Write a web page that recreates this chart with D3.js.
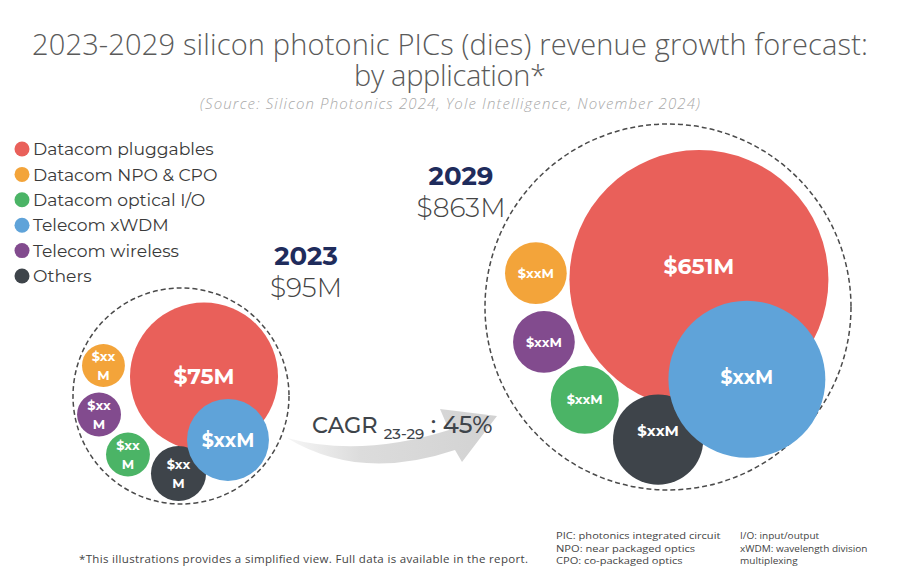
<!DOCTYPE html>
<html>
<head>
<meta charset="utf-8">
<script src="https://cdn.jsdelivr.net/npm/d3@7"></script>
<style>
  body { margin: 0; background: #fff; }
  svg { display: block; }
</style>
</head>
<body>
<div id="chart"></div>
<script>
"use strict";

// data
const categories = [
	"Datacom pluggables",
	"Datacom NPO & CPO",
	"Datacom optical I/O",
	"Telecom xWDM",
	"Telecom wireless",
	"Others",
];
const colors = ["#e9605a", "#f3a43a", "#4bb466", "#5fa3d9", "#824b8e", "#3e444a"];

const years = ["2023", "2029"];
const totals = ["$95M", "$863M"];
// bubble sizes (only pluggables is given, others)
const size2023 = [75, 6.3, 6.6, 23, 6.6, 10.4];
const size2029 = [651, 37, 45, 239, 37, 79];
const labels2023 = [["$75M"], ["$xx", "M"], ["$xx", "M"], ["$xxM"], ["$xx", "M"], ["$xx", "M"]];
const labels2029 = [["$651M"], ["$xxM"], ["$xxM"], ["$xxM"], ["$xxM"], ["$xxM"]];
const cagrPeriod = "23-29";
const cagrValue = "45%";

// layout: group circle, largest radius, bubble offsets (fraction of group radius)
const layout = [
	{
		cx: 181, cy: 396, R: 108, maxR: 74,
		offsets: [[0.213, -0.18], [-0.718, -0.282], [-0.491, 0.542], [0.435, 0.407], [-0.759, 0.171], [-0.023, 0.718]],
		fonts: [22, 13, 13, 19, 13, 13],
		labelDy: [0, 0, 0, 0, 0, 0],
		yearPos: [306, 265], totalPos: [306, 297],
	},
	{
		cx: 668, cy: 307, R: 183, maxR: 129.5,
		offsets: [[0.169, -0.15], [-0.722, -0.185], [-0.455, 0.507], [0.431, 0.395], [-0.678, 0.191], [-0.054, 0.725]],
		fonts: [22, 13, 13, 19, 13, 15],
		labelDy: [-13, 0, 0, -2, 0, -9],
		yearPos: [461, 185], totalPos: [461, 217],
	},
];

const W = 900, H = 569;
const sans = "Montserrat, 'DejaVu Sans', sans-serif";
const light = "'Open Sans', sans-serif";

const svg = d3.select("#chart")
	.append("svg")
	.attr("id", "svg")
	.attr("width", W)
	.attr("height", H);

// title
const title = svg.append("g").attr("id", "title").attr("text-anchor", "middle")
	.attr("font-family", light).attr("font-weight", 300);
title.append("text")
	.attr("x", W / 2).attr("y", 55)
	.attr("font-size", 29).attr("fill", "#5a5a5a")
	.attr("textLength", 836).attr("lengthAdjust", "spacing")
	.text("2023-2029 silicon photonic PICs (dies) revenue growth forecast:");
title.append("text")
	.attr("x", W / 2).attr("y", 86)
	.attr("font-size", 29).attr("fill", "#5a5a5a")
	.attr("textLength", 192).attr("lengthAdjust", "spacing")
	.text("by application*");
title.append("text")
	.attr("x", W / 2).attr("y", 109)
	.attr("font-style", "italic")
	.attr("font-size", 15).attr("fill", "#a8a8a8")
	.attr("textLength", 500).attr("lengthAdjust", "spacing")
	.text("(Source: Silicon Photonics 2024, Yole Intelligence, November 2024)");

// legend
const legend = svg.append("g").attr("id", "legend");
const ly = d3.scalePoint().domain(categories).range([149, 276]);
const item = legend.selectAll(".item")
	.data(categories)
	.enter()
	.append("g")
	.attr("class", "item")
	.attr("transform", (d) => `translate(22,${ly(d)})`);
item.append("circle")
	.attr("r", 7.5)
	.attr("fill", (d, i) => colors[i]);
item.append("text")
	.attr("x", 11).attr("dy", "0.36em")
	.attr("font-family", sans).attr("font-size", 17.2)
	.attr("fill", "#3a3a3a")
	.text((d) => d);

// CAGR arrow
const defs = svg.append("defs");
const grad = defs.append("linearGradient").attr("id", "arrowGrad");
grad.append("stop").attr("offset", "0%").attr("stop-color", "#f6f6f6");
grad.append("stop").attr("offset", "35%").attr("stop-color", "#dcdcdc");
grad.append("stop").attr("offset", "100%").attr("stop-color", "#d2d2d2");

svg.append("path")
	.attr("d", "M287,438 Q360,458 449,430 L440,409 L497,416 L462,462 L455,450 Q360,482 287,438 Z")
	.attr("fill", "url(#arrowGrad)");

const cagr = svg.append("text")
	.attr("x", 312).attr("y", 433)
	.attr("font-family", sans).attr("font-weight", 500)
	.attr("fill", "#3e444a");
cagr.append("tspan").attr("font-size", 22.5).text("CAGR ");
cagr.append("tspan").attr("font-size", 15).attr("dy", 6).text(cagrPeriod);
cagr.append("tspan").attr("font-size", 24).attr("dy", -6).text(" : " + cagrValue);

// bubble groups
const sizes = [size2023, size2029];
const labels = [labels2023, labels2029];

years.forEach((year, gi) => {
	const L = layout[gi];
	const g = svg.append("g").attr("id", "bubbles" + year);

	const r = d3.scaleSqrt()
		.domain([0, d3.max(sizes[gi])])
		.range([0, L.maxR]);

	g.append("circle")
		.attr("cx", L.cx).attr("cy", L.cy).attr("r", L.R)
		.attr("fill", "none")
		.attr("stroke", "#4a4a4a")
		.attr("stroke-width", 1.5)
		.attr("stroke-dasharray", "5,3");

	const data = categories.map((c, i) => ({
		cat: c,
		value: sizes[gi][i],
		label: labels[gi][i],
		color: colors[i],
		font: L.fonts[i],
		ldy: L.labelDy[i],
		x: L.cx + L.offsets[i][0] * L.R,
		y: L.cy + L.offsets[i][1] * L.R,
	}));

	// pluggables underneath, blue and others on top
	const order = [0, 1, 4, 2, 5, 3];
	const bubble = g.selectAll(".bubble")
		.data(order.map((i) => data[i]))
		.enter()
		.append("g")
		.attr("class", "bubble")
		.attr("transform", (d) => `translate(${d.x},${d.y})`);

	bubble.append("circle")
		.attr("r", (d) => r(d.value))
		.attr("fill", (d) => d.color);

	bubble.each(function (d) {
		const t = d3.select(this).append("text")
			.attr("text-anchor", "middle")
			.attr("font-family", sans).attr("font-weight", "bold")
			.attr("font-size", d.font)
			.attr("fill", "#fff");
		const n = d.label.length;
		d.label.forEach((line, k) => {
			t.append("tspan")
				.attr("x", 0)
				.attr("y", d.ldy + (k - (n - 1) / 2) * d.font * 1.45)
				.attr("dy", "0.36em")
				.text(line);
		});
	});

	// year + total
	svg.append("text")
		.attr("x", L.yearPos[0]).attr("y", L.yearPos[1])
		.attr("text-anchor", "middle")
		.attr("font-family", sans).attr("font-weight", "bold")
		.attr("font-size", 26).attr("fill", "#1f2c5c")
		.text(year);
	svg.append("text")
		.attr("x", L.totalPos[0]).attr("y", L.totalPos[1])
		.attr("text-anchor", "middle")
		.attr("font-family", sans).attr("font-weight", 300)
		.attr("font-size", 26.5).attr("fill", "#444")
		.text(totals[gi]);
});

// footnotes
const foot = svg.append("g").attr("id", "footnotes")
	.attr("font-family", light).attr("fill", "#444");
foot.append("text")
	.attr("x", 79).attr("y", 563)
	.attr("font-size", 11.5)
	.attr("textLength", 449).attr("lengthAdjust", "spacing")
	.text("*This illustrations provides a simplified view. Full data is available in the report.");

// abbreviations: small, widened to the reference's letter width
const abbrLeft = ["PIC: photonics integrated circuit", "NPO: near packaged optics", "CPO: co-packaged optics"];
const abbrRight = ["I/O: input/output", "xWDM: wavelength division", "multiplexing"];
[[abbrLeft, 556, 1.22], [abbrRight, 740, 1.1]].forEach(([lines, x, stretch]) => {
	foot.selectAll(null)
		.data(lines)
		.enter()
		.append("text")
		.attr("x", x)
		.attr("y", (d, i) => 539 + i * 12.5)
		.attr("font-size", 9.1)
		.text((d) => d)
		.attr("lengthAdjust", "spacingAndGlyphs")
		.attr("textLength", function () {
			return this.getComputedTextLength() * stretch;
		});
});
</script>
</body>
</html>
